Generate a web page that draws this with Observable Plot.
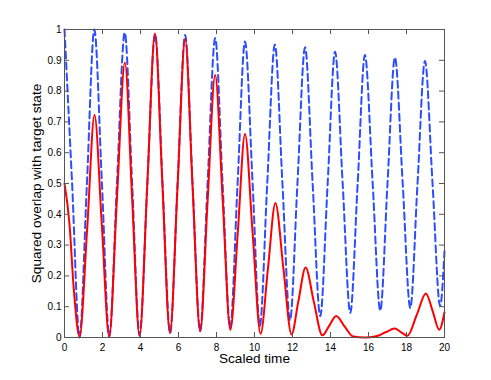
<!DOCTYPE html>
<html>
<head>
<meta charset="utf-8">
<script src="https://cdn.jsdelivr.net/npm/d3@7"></script>
<script src="https://cdn.jsdelivr.net/npm/@observablehq/plot@0.6"></script>
<style>
  html, body { margin: 0; padding: 0; background: white; }
</style>
</head>
<body>
<div id="chart"></div>
<script>
const xTicks = [0, 2, 4, 6, 8, 10, 12, 14, 16, 18, 20];
const xTickLabels = ["0", "2", "4", "6", "8", "10", "12", "14", "16", "18", "20"];
const yTicks = [0, 0.1, 0.2, 0.3, 0.4, 0.5, 0.6, 0.7, 0.8, 0.9, 1];
const yTickLabels = ["0", "0.1", "0.2", "0.3", "0.4", "0.5", "0.6", "0.7", "0.8", "0.9", "1"];
const xLabel = "Scaled time";
const yLabel = "Squared overlap with target state";

// Blue dashed series
const blueTime = [0, 0.4, 0.79, 1.18, 1.57, 1.97, 2.36, 2.76, 3.17, 3.56, 3.95, 4.36, 4.77, 5.16, 5.56, 5.95,
  6.35, 6.74, 7.14, 7.53, 7.93, 8.32, 8.72, 9.11, 9.5, 9.9, 10.28, 10.67, 11.07, 11.47, 11.87, 12.26,
  12.66, 13.06, 13.46, 13.85, 14.24, 14.64, 15.04, 15.43, 15.81, 16.22, 16.62, 17.0, 17.39, 17.8,
  18.2, 18.58, 18.97, 19.37, 19.77, 20.0];
const blueValue = [1.0, 0.5, 0.0, 0.5, 1.0, 0.5, 0.003, 0.5, 0.99, 0.5, 0.008, 0.5, 0.985, 0.5, 0.015, 0.5,
  0.982, 0.5, 0.022, 0.5, 0.972, 0.5, 0.032, 0.5, 0.961, 0.5, 0.038, 0.5, 0.951, 0.5, 0.056, 0.5,
  0.942, 0.5, 0.069, 0.5, 0.928, 0.5, 0.08, 0.5, 0.917, 0.5, 0.087, 0.5, 0.909, 0.5,
  0.096, 0.5, 0.898, 0.5, 0.102, 0.28];

// Red solid series
const redTime = [0, 0.26, 0.49, 0.79, 1.2, 1.58, 1.97, 2.35, 2.76, 3.18, 3.56, 3.95, 4.36, 4.76, 5.15, 5.55,
  5.95, 6.35, 6.74, 7.14, 7.53, 7.93, 8.33, 8.73, 9.12, 9.5, 9.9, 10.32, 10.71, 11.1, 11.52, 11.95,
  12.31, 12.69, 13.12, 13.57, 13.93, 14.3, 14.75, 15.2, 15.8, 16.4, 16.9, 17.38, 17.72, 18.05,
  18.55, 19.02, 19.38, 19.72, 20.0];
const redValue = [0.5, 0.37, 0.156, 0.003, 0.36, 0.722, 0.36, 0.003, 0.45, 0.893, 0.45, 0.005, 0.5, 0.987, 0.5, 0.014,
  0.49, 0.969, 0.49, 0.02, 0.44, 0.852, 0.44, 0.025, 0.34, 0.661, 0.34, 0.012, 0.225, 0.437, 0.225, 0.01,
  0.118, 0.227, 0.117, 0.007, 0.038, 0.07, 0.035, 0.003, 0.0, 0.004, 0.017, 0.029, 0.017, 0.006,
  0.075, 0.143, 0.085, 0.025, 0.082];

const blue = blueTime.map((t, i) => ({t, v: blueValue[i]}));
const red = redTime.map((t, i) => ({t, v: redValue[i]}));

const frameColor = "#555";

const chart = Plot.plot({
  width: 491,
  height: 380,
  marginTop: 29,
  marginRight: 47,
  marginBottom: 43,
  marginLeft: 64,
  style: {fontFamily: "'Liberation Sans', Arial, Helvetica, sans-serif", background: "white", color: "black"},
  x: {domain: [0, 20]},
  y: {domain: [0, 1]},
  marks: [
    Plot.axisX(xTicks, {tickSize: 0, tickPadding: 6, fontSize: 10, label: null,
      tickFormat: d => xTickLabels[xTicks.indexOf(d)]}),
    Plot.axisY(yTicks, {tickSize: 0, tickPadding: 3, fontSize: 10, label: null,
      tickFormat: d => yTickLabels[yTicks.indexOf(d)]}),
    Plot.line(blue, {x: "t", y: "v", stroke: "#2b4cff", strokeWidth: 2, strokeDasharray: "7,4", curve: "monotone-x"}),
    Plot.line(red, {x: "t", y: "v", stroke: "#ff0000", strokeWidth: 2, curve: "monotone-x"}),
    Plot.frame({stroke: frameColor, strokeWidth: 1}),
    Plot.tickX(xTicks, {x: d => d, insetTop: 303, stroke: frameColor}),
    Plot.tickX(xTicks, {x: d => d, insetBottom: 303, stroke: frameColor}),
    Plot.tickY(yTicks, {y: d => d, insetRight: 375, stroke: frameColor}),
    Plot.tickY(yTicks, {y: d => d, insetLeft: 375, stroke: frameColor}),
    Plot.text([xLabel], {frameAnchor: "bottom", textAnchor: "middle", lineAnchor: "middle", dy: 21.6, fontSize: 13.6, fill: "black"}),
    Plot.text([yLabel], {frameAnchor: "left", textAnchor: "middle", lineAnchor: "middle", rotate: -90, dx: -28, fontSize: 13.6, fill: "black"})
  ]
});
document.getElementById("chart").appendChild(chart);
</script>
</body>
</html>
